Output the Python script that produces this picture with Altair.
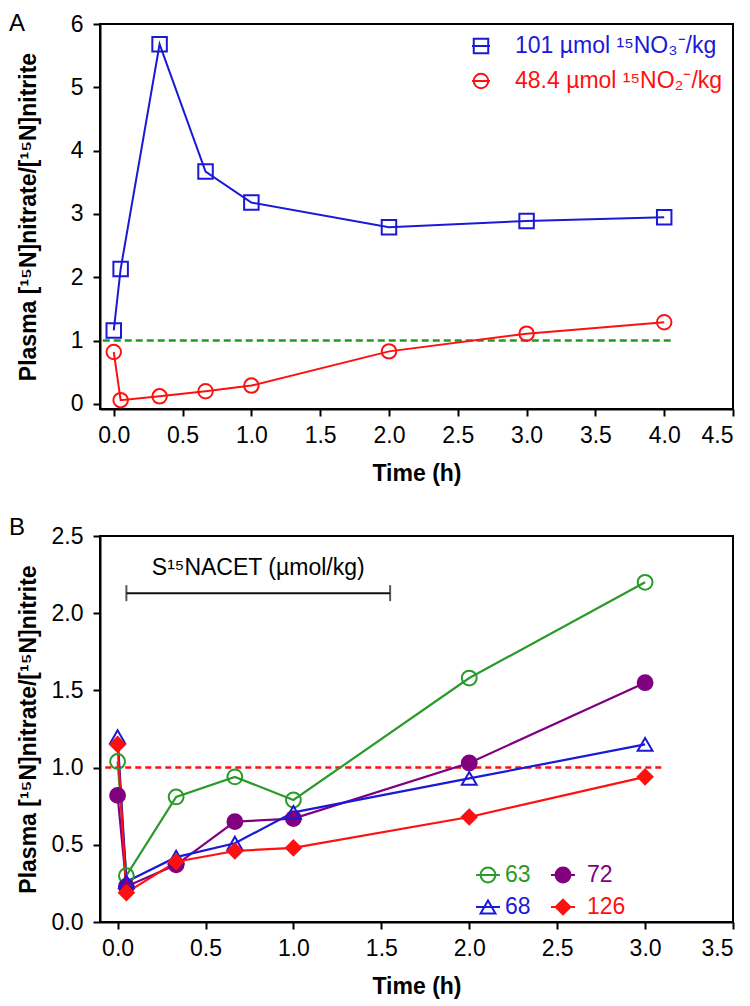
import altair as alt
import pandas as pd

# ---------------- data ----------------
# Panel A
time_a = [0.0, 0.05, 0.333, 0.667, 1.0, 2.0, 3.0, 4.0]
nitrate_dose = [1.16, 2.13, 5.68, 3.67, 3.18, 2.79, 2.89, 2.95]
nitrite_dose = [0.82, 0.06, 0.12, 0.20, 0.29, 0.83, 1.11, 1.29]
series_a = ["101 µmol ¹⁵NO₃⁻/kg", "48.4 µmol ¹⁵NO₂⁻/kg"]
ref_a_x = [-0.08, 4.07]
ref_level = 1.0

# Panel B
time_b = [0.0, 0.05, 0.333, 0.667, 1.0, 2.0, 3.0]
dose_63 = [1.04, 0.30, 0.81, 0.94, 0.79, 1.58, 2.20]
dose_72 = [0.82, 0.23, 0.37, 0.65, 0.67, 1.03, 1.55]
dose_68 = [1.20, 0.26, 0.42, 0.51, 0.71, 0.93, 1.15]
dose_126 = [1.15, 0.19, 0.39, 0.46, 0.48, 0.68, 0.94]
doses_b = ["63", "72", "68", "126"]
ref_b_x = [-0.07, 3.1]
bracket_x = [0.05, 1.55]
bracket_y = 2.13
bracket_label = "S¹⁵NACET (µmol/kg)"
bracket_label_pos = [0.80, 2.29]

# ---------------- styles ----------------
FONT = "Liberation Sans, Arial, Helvetica, sans-serif"
BLUE = "#1a1ad6"
RED = "#ff1010"
GREEN_A = "#1f9a1f"
GREEN_B = "#2a9a2a"
PURPLE = "#800080"
W, HA, HB = 633, 385, 386

# ---------------- panel A ----------------
df_a = pd.DataFrame({
    "t": time_a * 2,
    "v": nitrate_dose + nitrite_dose,
    "series": [series_a[0]] * len(time_a) + [series_a[1]] * len(time_a),
})
df_ref_a = pd.DataFrame({"t": ref_a_x, "v": [ref_level] * 2})

xa = alt.Scale(domain=[-0.1, 4.5], nice=False, zero=False)
ya = alt.Scale(domain=[-0.08, 6], nice=False, zero=False)
color_a = alt.Scale(domain=series_a, range=[BLUE, RED])
shape_a = alt.Scale(domain=series_a, range=["square", "circle"])

x_axis_a = alt.Axis(title="Time (h)", values=[i * 0.5 for i in range(10)], format=".1f",
                    titleY=64, titleBaseline="middle", labelPadding=8)
y_axis_a = alt.Axis(title="Plasma [¹⁵N]nitrate/[¹⁵N]nitrite", values=list(range(7)), format="d",
                    titleX=-72, titleBaseline="middle", labelPadding=10)

ref_a = alt.Chart(df_ref_a).mark_line(color=GREEN_A, strokeDash=[7, 4], strokeWidth=2.5).encode(
    x=alt.X("t:Q", scale=xa, axis=x_axis_a), y=alt.Y("v:Q", scale=ya, axis=y_axis_a))
lines_a = alt.Chart(df_a).mark_line(strokeWidth=2).encode(
    x=alt.X("t:Q", scale=xa, axis=x_axis_a), y=alt.Y("v:Q", scale=ya, axis=y_axis_a),
    color=alt.Color("series:N", scale=color_a, legend=None), detail="series:N")
points_a = alt.Chart(df_a).mark_point(filled=False, strokeWidth=2, size=210, opacity=1).encode(
    x="t:Q", y="v:Q",
    color=alt.Color("series:N", scale=color_a, legend=None),
    shape=alt.Shape("series:N", scale=shape_a, legend=None))

leg_a = pd.DataFrame({"label": series_a, "color": [BLUE, RED], "shape": ["square", "circle"], "row": [0, 1]})
leg_a_base = alt.Chart(leg_a).transform_calculate(ly="22 + datum.row * 35")
leg_a_rule = leg_a_base.mark_rule(strokeWidth=2).encode(
    x=alt.value(372), x2=alt.value(390), y=alt.Y("ly:Q", scale=None, axis=None),
    color=alt.Color("color:N", scale=None, legend=None))
leg_a_pts = leg_a_base.mark_point(filled=False, strokeWidth=2, size=210, opacity=1).encode(
    x=alt.value(381), y=alt.Y("ly:Q", scale=None, axis=None),
    shape=alt.Shape("shape:N", scale=None, legend=None),
    color=alt.Color("color:N", scale=None, legend=None))
leg_a_txt = leg_a_base.mark_text(align="left", baseline="middle", fontSize=23, font=FONT).encode(
    x=alt.value(415), y=alt.Y("ly:Q", scale=None, axis=None), text="label:N",
    color=alt.Color("color:N", scale=None, legend=None))

lab_a = alt.Chart(pd.DataFrame({"p": ["A"]})).mark_text(
    fontSize=24, align="left", baseline="top", font=FONT, color="black").encode(
    x=alt.value(-91), y=alt.value(-12), text="p:N")

panel_a = alt.layer(ref_a, lines_a, points_a, leg_a_rule, leg_a_pts, leg_a_txt, lab_a).properties(
    width=W, height=HA)

# ---------------- panel B ----------------
vals_b = dose_63 + dose_72 + dose_68 + dose_126
df_b = pd.DataFrame({
    "t": time_b * 4,
    "v": vals_b,
    "dose": sum([[d] * len(time_b) for d in doses_b], []),
})
df_ref_b = pd.DataFrame({"t": ref_b_x, "v": [ref_level] * 2})
df_br = pd.DataFrame({"x": [bracket_x[0]], "x2": [bracket_x[1]], "y": [bracket_y]})
df_caps = pd.DataFrame({"x": bracket_x, "y": [bracket_y] * 2})
df_brl = pd.DataFrame({"x": [bracket_label_pos[0]], "y": [bracket_label_pos[1]], "label": [bracket_label]})

xb = alt.Scale(domain=[-0.1, 3.5], nice=False, zero=False)
yb = alt.Scale(domain=[0, 2.5], nice=False, zero=False)
colors_b = [GREEN_B, PURPLE, BLUE, RED]
color_b = alt.Scale(domain=doses_b, range=colors_b)
fill_b = alt.Scale(domain=doses_b, range=["transparent", PURPLE, "transparent", RED])
shape_b = alt.Scale(domain=doses_b, range=["circle", "circle", "triangle-up", "diamond"])

x_axis_b = alt.Axis(title="Time (h)", values=[i * 0.5 for i in range(8)], format=".1f",
                    titleY=64, titleBaseline="middle", labelPadding=8)
y_axis_b = alt.Axis(title="Plasma [¹⁵N]nitrate/[¹⁵N]nitrite", values=[i * 0.5 for i in range(6)], format=".1f",
                    titleX=-72, titleBaseline="middle", labelPadding=10)

ref_b = alt.Chart(df_ref_b).mark_line(color=RED, strokeDash=[6, 4], strokeWidth=2.5).encode(
    x=alt.X("t:Q", scale=xb, axis=x_axis_b), y=alt.Y("v:Q", scale=yb, axis=y_axis_b))
lines_b = alt.Chart(df_b).mark_line(strokeWidth=2.2).encode(
    x=alt.X("t:Q", scale=xb, axis=x_axis_b), y=alt.Y("v:Q", scale=yb, axis=y_axis_b),
    color=alt.Color("dose:N", scale=color_b, legend=None), detail="dose:N")
points_b = alt.Chart(df_b).mark_point(strokeWidth=2, size=220, opacity=1).encode(
    x="t:Q", y="v:Q",
    stroke=alt.Stroke("dose:N", scale=color_b, legend=None),
    fill=alt.Fill("dose:N", scale=fill_b, legend=None),
    shape=alt.Shape("dose:N", scale=shape_b, legend=None))

bracket = alt.Chart(df_br).mark_rule(color="#111111", strokeWidth=2).encode(
    x="x:Q", x2="x2:Q", y="y:Q")
caps = alt.Chart(df_caps).mark_tick(color="#111111", thickness=2, size=16, orient="vertical").encode(
    x="x:Q", y="y:Q")
bracket_txt = alt.Chart(df_brl).mark_text(fontSize=23, font=FONT, color="black").encode(
    x="x:Q", y="y:Q", text="label:N")

leg_b = pd.DataFrame({
    "label": doses_b, "color": colors_b,
    "fillc": ["transparent", PURPLE, "transparent", RED],
    "shape": ["circle", "circle", "triangle-up", "diamond"],
    "col": [0, 1, 0, 1], "row": [0, 0, 1, 1],
})
leg_b_base = alt.Chart(leg_b).transform_calculate(
    lx="388 + datum.col * 75", ly="339 + datum.row * 32",
    lx1="376 + datum.col * 75", lx2="400 + datum.col * 75", tx="405 + datum.col * 82")
leg_b_rule = leg_b_base.mark_rule(strokeWidth=2).encode(
    x=alt.X("lx1:Q", scale=None, axis=None), x2="lx2:Q", y=alt.Y("ly:Q", scale=None, axis=None),
    color=alt.Color("color:N", scale=None, legend=None))
leg_b_pts = leg_b_base.mark_point(strokeWidth=2, size=220, opacity=1).encode(
    x=alt.X("lx:Q", scale=None, axis=None), y=alt.Y("ly:Q", scale=None, axis=None),
    shape=alt.Shape("shape:N", scale=None, legend=None),
    stroke=alt.Stroke("color:N", scale=None, legend=None),
    fill=alt.Fill("fillc:N", scale=None, legend=None))
leg_b_txt = leg_b_base.mark_text(align="left", baseline="middle", fontSize=23, font=FONT).encode(
    x=alt.X("tx:Q", scale=None, axis=None), y=alt.Y("ly:Q", scale=None, axis=None), text="label:N",
    color=alt.Color("color:N", scale=None, legend=None))

lab_b = alt.Chart(pd.DataFrame({"p": ["B"]})).mark_text(
    fontSize=24, align="left", baseline="top", font=FONT, color="black").encode(
    x=alt.value(-91), y=alt.value(-20), text="p:N")

panel_b = alt.layer(ref_b, lines_b, points_b, bracket, caps, bracket_txt,
                    leg_b_rule, leg_b_pts, leg_b_txt, lab_b).properties(width=W, height=HB)

chart = alt.vconcat(panel_a, panel_b, spacing=29).resolve_scale(
    color="independent", shape="independent", fill="independent", stroke="independent"
).properties(
    padding={"left": 0, "top": 3, "right": 0, "bottom": 0}
).configure_view(stroke="black", strokeWidth=2).configure_axis(
    labelFont=FONT, labelFontSize=23, labelColor="black",
    titleFont=FONT, titleFontSize=23, titleFontWeight="bold", titleColor="black",
    domainColor="black", domainWidth=2, tickColor="black", tickWidth=2, tickSize=7,
    grid=False,
)

chart.save("out.html", embed_options={"renderer": "svg", "actions": False})
